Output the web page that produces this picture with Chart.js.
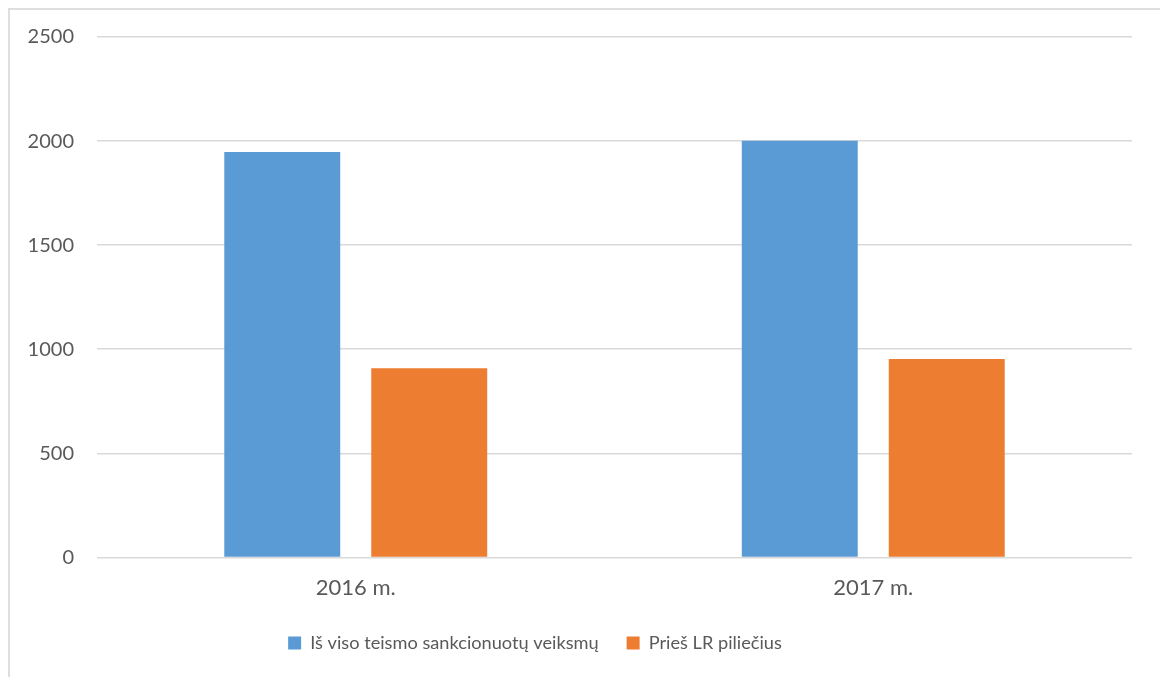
<!DOCTYPE html>
<html>
<head>
<meta charset="utf-8">
<script src="https://cdn.jsdelivr.net/npm/chart.js@4/dist/chart.umd.min.js"></script>
<style>
  html, body { margin: 0; padding: 0; background: #fff; overflow: hidden; }
  #wrap { position: relative; width: 1160px; height: 677px; overflow: hidden; }
  #frame { position: absolute; left: 8px; top: 8px; width: 1400px; height: 900px;
           border: 2px solid #dedede; box-sizing: border-box; }
  #c { position: absolute; left: 0; top: 0; }
</style>
</head>
<body>
<div id="wrap">
  <div id="frame"></div>
  <canvas id="c" width="1160" height="677"></canvas>
</div>
<script>
// Categories and series
const categories = ['2016 m.', '2017 m.'];
const seriesNames = ['Iš viso teismo sankcionuotų veiksmų', 'Prieš LR piliečius'];
const totalActions = [1947, 2001];
const againstCitizens = [909, 953];
const yTicks = [0, 500, 1000, 1500, 2000, 2500];

const FONT = 'Lato, "Open Sans", sans-serif';
const TEXT = '#595959';

// Places the bottom legend a little left of centre and closer to the axis labels
const legendShift = {
  id: 'legendShift',
  afterLayout(chart) {
    const l = chart.legend;
    if (!l) return;
    const dx = -31, dy = -12;
    l.left += dx;
    l.right += dx;
    l.top += dy;
    l.bottom += dy;
  }
};

new Chart(document.getElementById('c'), {
  type: 'bar',
  data: {
    labels: categories,
    datasets: [
      { label: seriesNames[0], data: totalActions, backgroundColor: '#5B9BD5' },
      { label: seriesNames[1], data: againstCitizens, backgroundColor: '#ED7D31' }
    ]
  },
  options: {
    responsive: false,
    animation: false,
    devicePixelRatio: 1,
    categoryPercentage: 0.568,
    barPercentage: 0.789,
    layout: { padding: { left: 0, right: 28, top: 37, bottom: 3 } },
    plugins: {
      tooltip: { enabled: false },
      legend: {
        position: 'bottom',
        labels: {
          color: TEXT,
          font: { family: FONT, size: 18.2 },
          boxWidth: 13,
          boxHeight: 13,
          padding: 28
        }
      }
    },
    scales: {
      y: {
        min: 0,
        max: 2500,
        afterBuildTicks(s) { s.ticks = yTicks.map(v => ({ value: v })); },
        afterFit(s) { s.width = 97; },
        border: { display: false },
        grid: { color: '#d9d9d9', lineWidth: 1.5, drawTicks: false },
        ticks: {
          color: TEXT,
          font: { family: FONT, size: 20 },
          padding: 23,
          callback: v => String(v)
        }
      },
      x: {
        border: { display: false },
        grid: { display: false, drawTicks: false },
        ticks: { color: TEXT, font: { family: FONT, size: 22 }, padding: 17 }
      }
    }
  },
  plugins: [legendShift]
});
</script>
</body>
</html>
